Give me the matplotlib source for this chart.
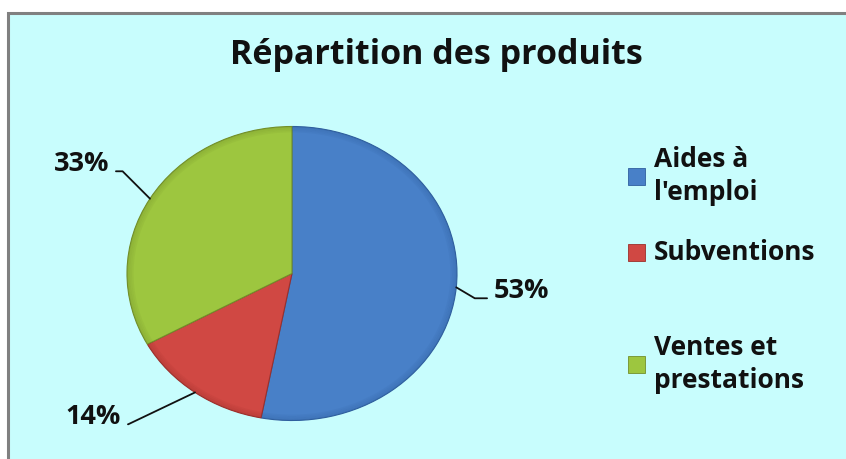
import numpy as np
import matplotlib
matplotlib.use("Agg")
import matplotlib.pyplot as plt
from matplotlib.patches import Rectangle, Wedge

# donnees
labels = ["Aides à\nl'emploi", "Subventions", "Ventes et\nprestations"]
values = [53, 14, 33]
colors = ["#4880c8", "#d04843", "#9dc63f"]
edges = ["#2f5f9e", "#9c2f2b", "#728f2a"]

plt.rcParams['font.family'] = ['Open Sans', 'DejaVu Sans']

W, H = 846, 459
fig = plt.figure(figsize=(W / 100, H / 100), dpi=100)
fig.patch.set_facecolor("white")

# fond cyan avec bordure grise
bg = Rectangle((8 / W, -0.05), 1.1, 1 - 13 / H + 0.05, transform=fig.transFigure,
               facecolor="#c8fdfd", edgecolor="#808080", linewidth=2.2, zorder=-5)
fig.patches.append(bg)

fig.text(436 / W, 1 - 55 / H, "Répartition des produits", ha="center", va="center",
         fontsize=24.5, fontweight="bold", color="#111111")

# camembert (ellipse legerement aplatie)
cx, cy, rx, ry = 292, 273.5, 165, 147
ax = fig.add_axes([(cx - rx) / W, 1 - (cy + ry) / H, 2 * rx / W, 2 * ry / H])
ax.set_zorder(2)
wedges, _ = ax.pie(values, colors=colors, startangle=90, counterclock=False,
                   wedgeprops=dict(linewidth=0.8))
for w, ec in zip(wedges, edges):
    w.set_edgecolor(ec)
    # leger relief sur le bord
    for k in range(4):
        ax.add_patch(Wedge((0, 0), 1 - 0.01 * k, w.theta1, w.theta2, width=0.01,
                           facecolor=ec, alpha=0.35 - 0.08 * k, linewidth=0))
ax.set_aspect("auto")
ax.set_xlim(-1, 1)
ax.set_ylim(-1, 1)
ax.axis("off")

# etiquettes en pourcentage avec traits de rappel
txt_pos = [(494, 291, "left", 0.0, -30.6),
           (121, 417, "right", 1.0, 25.5),
           (109, 164, "right", 1.0, 135)]
for w, v, (tx, ty, ha, rx_, ang) in zip(wedges, values, txt_pos):
    mid = np.deg2rad((w.theta1 + w.theta2) / 2)
    ax.annotate("%d%%" % v, xy=(np.cos(mid), np.sin(mid)), xycoords="data",
                xytext=(tx, H - ty), textcoords="figure pixels",
                ha=ha, va="center", fontsize=19.5, fontweight="bold", color="#111111",
                annotation_clip=False,
                arrowprops=dict(arrowstyle="-", color="#111111", lw=1.3,
                                relpos=(rx_, 0.22), shrinkA=3, shrinkB=0,
                                connectionstyle="angle,angleA=0,angleB=%s,rad=0" % ang))

# legende
leg_y = [176, 252, 364]
for lab, c, ec, ly in zip(labels, colors, edges, leg_y):
    fig.patches.append(Rectangle((628 / W, 1 - (ly - 8) / H), 17 / W, -17 / H,
                                 transform=fig.transFigure, facecolor=c,
                                 edgecolor=ec, linewidth=0.6))
    fig.text(654 / W, 1 - ly / H, lab, ha="left", va="center", fontsize=19,
             fontweight="bold", color="#111111", linespacing=1.25)

fig.savefig("out.png", dpi=100, facecolor=fig.get_facecolor())
